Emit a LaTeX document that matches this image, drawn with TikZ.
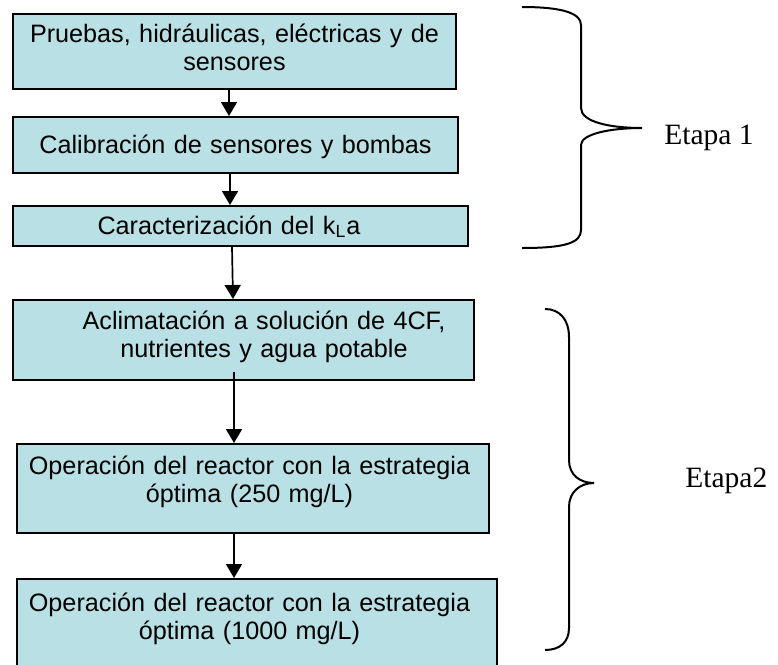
\documentclass[tikz,border=0pt]{standalone}
\usepackage{fontspec}
\usepackage{tikz}
\usetikzlibrary{arrows.meta,calc}
\newfontfamily\arialfont{Liberation Sans}
\newfontfamily\timesfont{Liberation Serif}
\definecolor{pasofill}{RGB}{185,224,228}

\begin{document}
\begin{tikzpicture}[x=0.5pt,y=-0.5pt,
  paso/.style={draw=black, line width=1pt, fill=pasofill, rectangle, anchor=north,
    inner sep=0pt, align=center, font=\arialfont\fontsize{12.6}{14.25}\selectfont},
  flecha/.style={line width=0.85pt, -{Triangle[width=8pt,length=7pt]}},
  llave/.style={line width=1pt},
  etapa/.style={anchor=base west, inner sep=0pt, font=\timesfont\fontsize{14.75}{17}\selectfont}]

\useasboundingbox (0,0) rectangle (778,665);

\node[paso, text width=221.5pt, text height=14pt, text depth=23.5pt] (b1) at (234.5,13)
  {Pruebas, hidráulicas, eléctricas y de\\ sensores};
\node[paso, text width=222.5pt, text height=18pt, text depth=10pt] (b2) at (235.5,116)
  {Calibración de sensores y bombas};
\node[paso, text width=227.5pt, text height=14pt, text depth=6pt] (b3) at (240.5,205)
  {\hspace*{-11.5pt}Caracterización del k\textsubscript{L}a};
\node[paso, text width=230.5pt, text height=14.5pt, text depth=25.5pt] (b4) at (243.5,299)
  {\hspace*{20.5pt}Aclimatación a solución de 4CF,\\ \hspace*{20.5pt}nutrientes y agua potable};
\node[paso, text width=236pt, text height=15pt, text depth=29.5pt] (b5) at (253,443)
  {\hspace*{-3.5pt}Operación del reactor con la estrategia\\ \hspace*{-3.5pt}óptima (250 mg/L)};
\node[paso, text width=240pt, text height=16pt, text depth=35pt] (b6) at (257,578)
  {\hspace*{-7.5pt}Operación del reactor con la estrategia\\ \hspace*{-7.5pt}óptima (1000 mg/L)};

\draw[flecha] ($(b1.south)+(-5.5,0)$) -- ($(b2.north)+(-6.5,0)$);
\draw[flecha] ($(b2.south)+(-5.5,0)$) -- ($(b3.north)+(-10.5,0)$);
\draw[flecha] ($(b3.south)+(-8.5,0)$) -- ($(b4.north)+(-10.5,0)$);
\draw[flecha] ($(b4.south)+(-9.5,-9)$) -- ($(b5.north)+(-19,0)$);
\draw[flecha] ($(b5.south)+(-19,0)$) -- ($(b6.north)+(-23,0)$);

\draw[llave] (522,7) .. controls (565,7) and (581,14) .. (581,25) -- (581,108)
  .. controls (581,122) and (610,128) .. (642,128)
  .. controls (610,128) and (581,134) .. (581,145) -- (581,230)
  .. controls (581,243) and (565,248) .. (522,248);
\node[etapa] (etapa1) at (664,144) {Etapa 1};

\draw[llave] (545,309) .. controls (560,309) and (569,320) .. (569,337) -- (569,460)
  .. controls (569,475) and (580,483) .. (594,483)
  .. controls (580,483) and (569,492) .. (569,507) -- (569,628)
  .. controls (569,642) and (560,650) .. (545,650);
\node[etapa] (etapa2) at (685,487) {Etapa2};

\end{tikzpicture}
\end{document}
